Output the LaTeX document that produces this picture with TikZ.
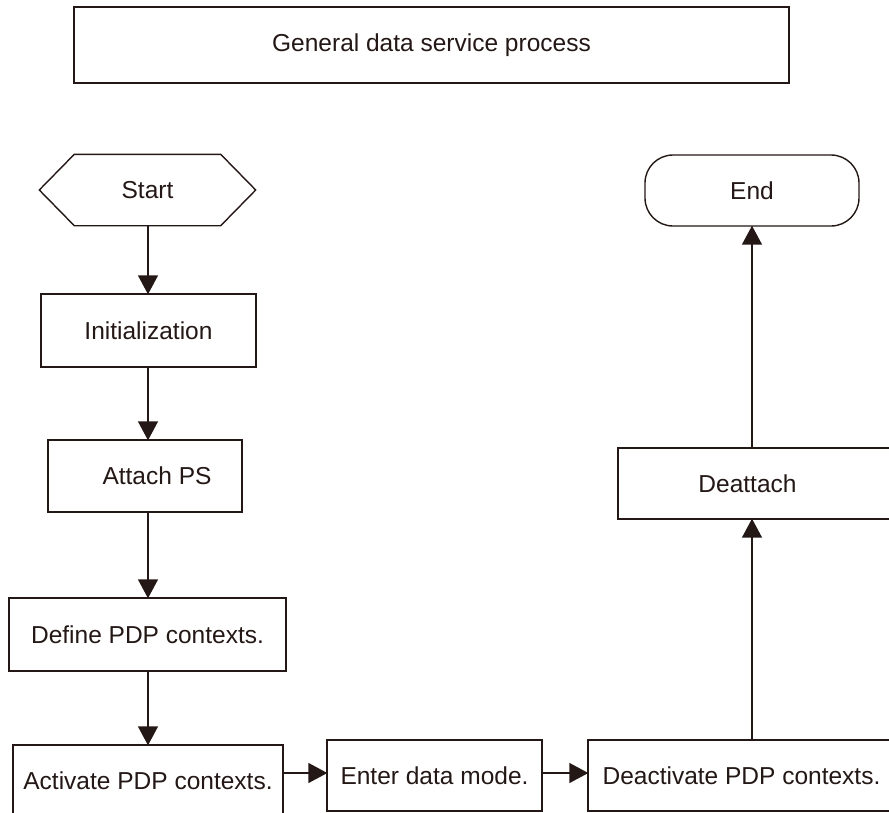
\documentclass[tikz,border=0pt]{standalone}
\usepackage{fontspec}
\setmainfont{Liberation Sans}
\usetikzlibrary{arrows.meta}
\definecolor{ink}{RGB}{35,24,21}
\begin{document}
\begin{tikzpicture}[x=1pt,y=-1pt,
  box/.style={draw=ink, line width=1.4pt, inner sep=0pt, text=ink,
    font=\fontsize{24.5}{29}\selectfont},
  flow/.style={draw=ink, line width=1.5pt, -{Triangle[length=19pt,width=20pt]}, shorten >=-1pt},
  plain/.style={draw=ink, line width=1.5pt}]
\useasboundingbox (0,0) rectangle (889,812);
\fill[white] (0,0) rectangle (889,812);

% title
\node[box, minimum width=715pt, minimum height=76pt] (title) at (431.5,45) {General data service process};

% start hexagon
\node[box, draw=none, minimum width=215pt, minimum height=70pt] (start) at (147.5,190) {Start};
\draw[ink, line width=1.4pt] (start.west) -- ([xshift=35pt]start.north west) -- ([xshift=-35pt]start.north east)
  -- (start.east) -- ([xshift=-35pt]start.south east) -- ([xshift=35pt]start.south west) -- cycle;

% end
\node[box, rounded corners=28pt, minimum width=214pt, minimum height=71pt] (end) at (752,190.5) {End};

% left column
\node[box, minimum width=215pt, minimum height=73pt] (init) at (148.5,330.5) {Initialization};
\node[box, minimum width=194pt, minimum height=72pt] (attach) at (145,476) {};
\node[text=ink, font=\fontsize{24.5}{29}\selectfont, inner sep=0pt] (attachtxt) at (157,476) {Attach PS};
\node[box, minimum width=277pt, minimum height=73pt] (define) at (147.5,634.5) {Define PDP contexts.};
\node[box, minimum width=270pt, minimum height=71pt] (activate) at (148,780.5) {Activate PDP contexts.};

% bottom row
\node[box, minimum width=215pt, minimum height=71pt] (enter) at (434.5,775.5) {Enter data mode.};
\node[box, minimum width=307pt, minimum height=71pt] (deact) at (741.5,775.5) {Deactivate PDP contexts.};

% right column
\node[box, minimum width=274pt, minimum height=71pt] (deattach) at (755,483.5) {};
\node[text=ink, font=\fontsize{24.5}{29}\selectfont, inner sep=0pt] (deattachtxt) at (747.5,483.5) {Deattach};

% connectors
\draw[flow] (start.south -| 148,0) -- (init.north -| 148,0);
\draw[flow] (init.south -| 148,0) -- (attach.north -| 148,0);
\draw[flow] (attach.south -| 148,0) -- (define.north -| 148,0);
\draw[flow] (define.south -| 148,0) -- (activate.north -| 148,0);
\draw[flow] (activate.east |- 0,773) -- (enter.west |- 0,773);
\draw[flow] (enter.east |- 0,773) -- (deact.west |- 0,773);
\draw[flow] (deact.north -| 752,0) -- (deattach.south -| 752,0);
\draw[flow] (deattach.north -| 752,0) -- (end.south -| 752,0);
\end{tikzpicture}
\end{document}
